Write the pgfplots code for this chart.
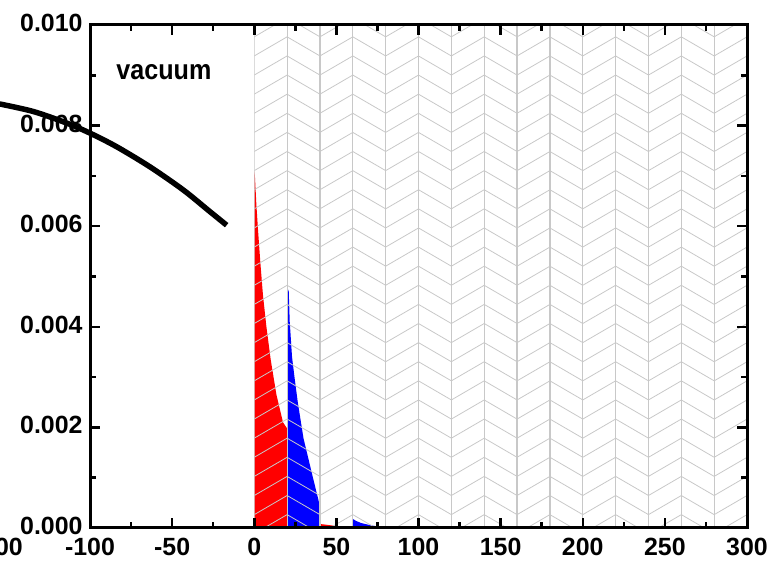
\documentclass[border=0pt]{standalone}
\usepackage{fontspec}
\setmainfont{Liberation Sans}
\usepackage{pgfplots}
\pgfplotsset{compat=1.18}
\definecolor{hatchgray}{RGB}{200,200,200}
\begin{document}
\begin{tikzpicture}
\begin{axis}[
  scale only axis, width=657bp, height=503bp,
  xmin=-100, xmax=300, ymin=0, ymax=0.01,
  clip=false, axis on top,
  xtick={-100,-50,0,50,100,150,200,250,300},
  ytick={0,0.002,0.004,0.006,0.008,0.010},
  minor x tick num=1, minor y tick num=1,
  tick align=inside,
  major tick length=10bp, minor tick length=6bp,
  tick style={black, line width=2.5bp},
  axis line style={line width=3bp},
  scaled y ticks=false,
  yticklabel style={/pgf/number format/fixed, /pgf/number format/fixed zerofill, /pgf/number format/precision=3, xshift=-4bp, yshift=2bp},
  xticklabel style={yshift=-7bp},
  ticklabel style={font=\fontsize{25}{25}\selectfont\bfseries},
  /pgf/number format/assume math mode=true,
]
% red region 0-20
\addplot[draw=none, fill=red] coordinates {
 (0,0.0071) (0.4,0.0070) (1.25,0.00645) (2.3,0.00592) (3.7,0.00528) (5.3,0.00463)
 (7.4,0.0040) (10,0.00335) (13.5,0.00265) (17.5,0.00210) (20,0.00198)
} \closedcycle;
% blue region 20-40
\addplot[draw=none, fill=blue] coordinates {
 (20,0.0048) (21,0.00470) (21.6,0.0041) (23,0.0034) (24.5,0.0030) (26.5,0.0025)
 (30,0.00178) (35,0.0011) (39.5,0.0005) (40,0.00045)
} \closedcycle;
% red region 40-60
\addplot[draw=none, fill=red] coordinates {
 (40,0.00008) (45,0.00006) (50,0.00004) (55,0.00003) (60,0.00002)
} \closedcycle;
% blue region 60-80
\addplot[draw=none, fill=blue] coordinates {
 (60,0.00018) (62,0.00014) (65,0.00010) (70,0.00006) (75,0.00003) (80,0.00001)
} \closedcycle;
% hatch
\begin{scope}
\clip (rel axis cs:0.25,0.003) rectangle (rel axis cs:0.9985,0.997);
\pgfplotsinvokeforeach{0,...,14}{%
  \ifodd#1\relax
    \draw[hatchgray, line width=0.8bp] foreach \j in {-1,...,27} {(rel axis cs:{0.25+0.05*#1},{0.038*(\j+1.7)}) -- (rel axis cs:{0.30+0.05*#1},{0.038*(\j+0.7)})};
  \else
    \draw[hatchgray, line width=0.8bp] foreach \j in {-1,...,27} {(rel axis cs:{0.25+0.05*#1},{0.038*(\j+0.7)}) -- (rel axis cs:{0.30+0.05*#1},{0.038*(\j+1.7)})};
  \fi
  \draw[hatchgray, line width=1.2bp] (rel axis cs:{0.25+0.05*#1},0) -- (rel axis cs:{0.25+0.05*#1},1);
}
\end{scope}
% black curve
\addplot[black, line width=5.5bp, smooth] coordinates {
 (-155,0.00843) (-134.5,0.00828) (-114.2,0.00805) (-100,0.00785) (-83.8,0.00758)
 (-63.5,0.00718) (-43.2,0.00672) (-27,0.00629) (-16.8,0.00602)
};
\node at (axis cs:-55,0.00907) {\scalebox{0.9}[1]{\fontsize{28}{28}\selectfont\bfseries vacuum}};
\node[anchor=north east, inner sep=0.333em, yshift=-7bp, font=\fontsize{25}{25}\selectfont\bfseries] at (axis cs:-138.8,0) {-200};
\coordinate (bbl) at (rel axis cs:-0.13699,-0.07157);
\coordinate (btr) at (rel axis cs:1.03653,1.04970);
\end{axis}
\pgfresetboundingbox
\useasboundingbox (bbl) rectangle (btr);
\end{tikzpicture}
\end{document}
